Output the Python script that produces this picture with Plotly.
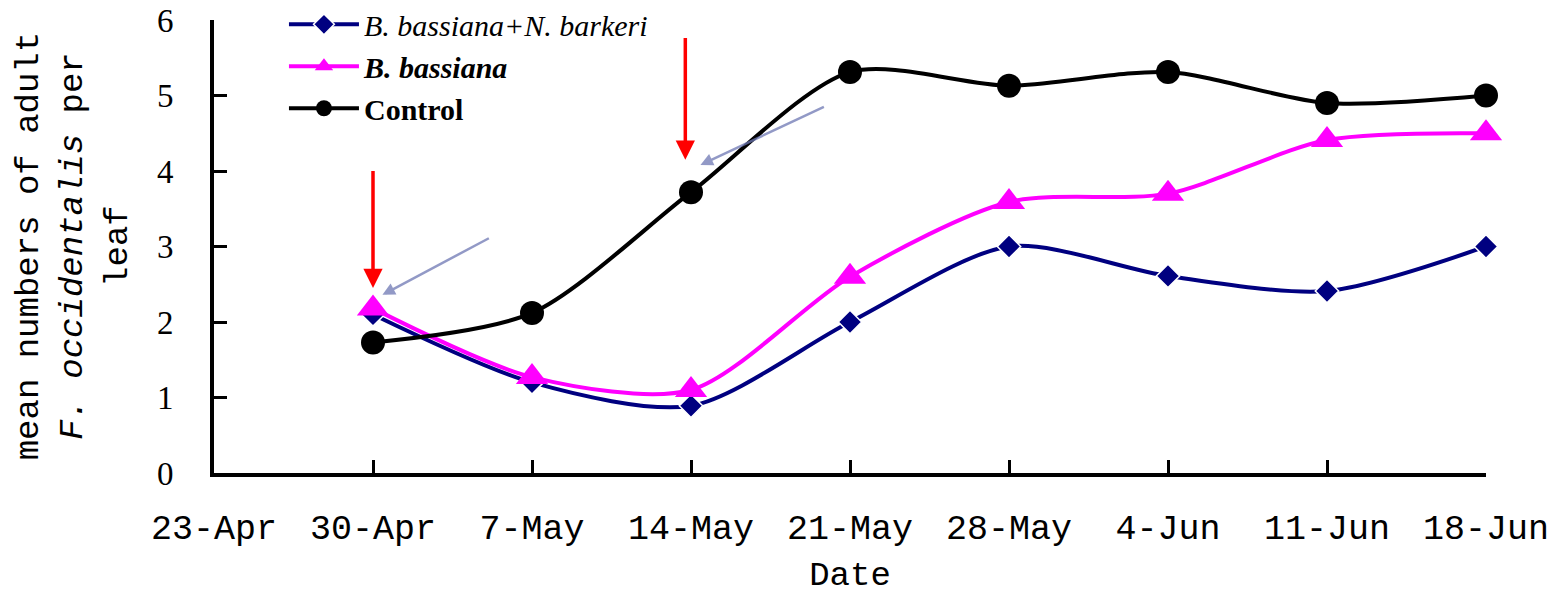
import plotly.graph_objects as go

# ---- data ----
dates = ["2012-04-30", "2012-05-07", "2012-05-14", "2012-05-21",
         "2012-05-28", "2012-06-04", "2012-06-11", "2012-06-18"]
bb_nb = [2.10, 1.20, 0.89, 2.00, 3.00, 2.61, 2.41, 3.00]
bb = [2.18, 1.27, 1.10, 2.60, 3.59, 3.70, 4.41, 4.50]
control = [1.73, 2.12, 3.72, 5.31, 5.13, 5.31, 4.90, 5.00]

tick_dates = ["2012-04-23", "2012-04-30", "2012-05-07", "2012-05-14", "2012-05-21",
              "2012-05-28", "2012-06-04", "2012-06-11", "2012-06-18"]
tick_labels = ["23-Apr", "30-Apr", "7-May", "14-May", "21-May",
               "28-May", "4-Jun", "11-Jun", "18-Jun"]
y_ticks = [0, 1, 2, 3, 4, 5, 6]

# spray arrows (red): date, top value, tip value
spray_dates = ["2012-04-30", "2012-05-13 18:00"]
spray_top = [4.02, 5.78]
spray_tip = [2.45, 4.15]

# faint pointer arrows: (tail date, tail value) -> (tip date, tip value)
ptr_tail_dates = ["2012-05-05 04:00", "2012-05-19 22:00"]
ptr_tail_vals = [3.12, 4.86]
ptr_tip_dates = ["2012-04-30 10:00", "2012-05-14 10:00"]
ptr_tip_vals = [2.36, 4.08]

fig = go.Figure()

fig.add_trace(go.Scatter(
    x=dates, y=bb_nb, name="<i>B. bassiana+N. barkeri</i>",
    mode="lines+markers", line=dict(color="#000080", width=4, shape="spline", smoothing=0.8),
    marker=dict(symbol="diamond", size=18, color="#000080", line=dict(color="white", width=1.5)),
    cliponaxis=False))
fig.add_trace(go.Scatter(
    x=dates, y=bb, name="<b><i>B. bassiana</i></b>",
    mode="lines+markers", line=dict(color="#FF00FF", width=4, shape="spline", smoothing=0.8),
    marker=dict(symbol="triangle-up", size=28, color="#FF00FF"),
    cliponaxis=False))
fig.add_trace(go.Scatter(
    x=dates, y=control, name="<b>Control</b>",
    mode="lines+markers", line=dict(color="black", width=4, shape="spline", smoothing=0.8),
    marker=dict(symbol="circle", size=24, color="black"),
    cliponaxis=False))

annotations = []
for d, top, tip in zip(spray_dates, spray_top, spray_tip):
    annotations.append(dict(
        x=d, y=tip, ax=d, ay=top, xref="x", yref="y", axref="x", ayref="y",
        showarrow=True, arrowhead=2, arrowsize=1.1, arrowwidth=3.5, arrowcolor="#FF0000", text=""))
for td, tv, pd_, pv in zip(ptr_tail_dates, ptr_tail_vals, ptr_tip_dates, ptr_tip_vals):
    annotations.append(dict(
        x=pd_, y=pv, ax=td, ay=tv, xref="x", yref="y", axref="x", ayref="y",
        showarrow=True, arrowhead=2, arrowsize=1, arrowwidth=2.5,
        arrowcolor="rgba(110,120,180,0.75)", text=""))

annotations.append(dict(
    text="mean numbers of adult<br><i>F. occidentalis</i> per<br>leaf",
    xref="paper", yref="paper", x=-0.111, y=0.5, xanchor="center", yanchor="middle",
    textangle=-90, showarrow=False,
    font=dict(family="Liberation Mono", size=34, color="black")))

fig.update_layout(
    width=1550, height=587,
    margin=dict(l=206, r=72, t=12, b=122, autoexpand=False),
    paper_bgcolor="white", plot_bgcolor="white",
    showlegend=True,
    legend=dict(x=0.055, y=1.048, xanchor="left", yanchor="top",
                font=dict(family="Liberation Serif", size=30, color="black"),
                bgcolor="rgba(0,0,0,0)", itemwidth=70, tracegroupgap=0),
    annotations=annotations,
    xaxis=dict(
        type="date", range=[tick_dates[0], tick_dates[-1]],
        tickvals=tick_dates, ticktext=tick_labels,
        showline=True, linecolor="black", linewidth=4, mirror=False,
        ticks="inside", ticklen=13, tickwidth=3, tickcolor="black",
        showgrid=False, zeroline=False, automargin=False,
        tickfont=dict(family="Liberation Mono", size=35, color="black"),
        ticklabelstandoff=20, ticklabeloverflow="allow",
        title=dict(text="Date", font=dict(family="Liberation Mono", size=34, color="black"), standoff=20),
    ),
    yaxis=dict(
        range=[0, 6], tickvals=y_ticks,
        showline=True, linecolor="black", linewidth=4,
        ticks="inside", ticklen=13, tickwidth=3, tickcolor="black",
        showgrid=False, zeroline=False, automargin=False,
        tickfont=dict(family="Liberation Serif", size=33, color="black"),
        ticklabelstandoff=30, ticklabeloverflow="allow",
    ),
)

fig.write_html("out.html")
